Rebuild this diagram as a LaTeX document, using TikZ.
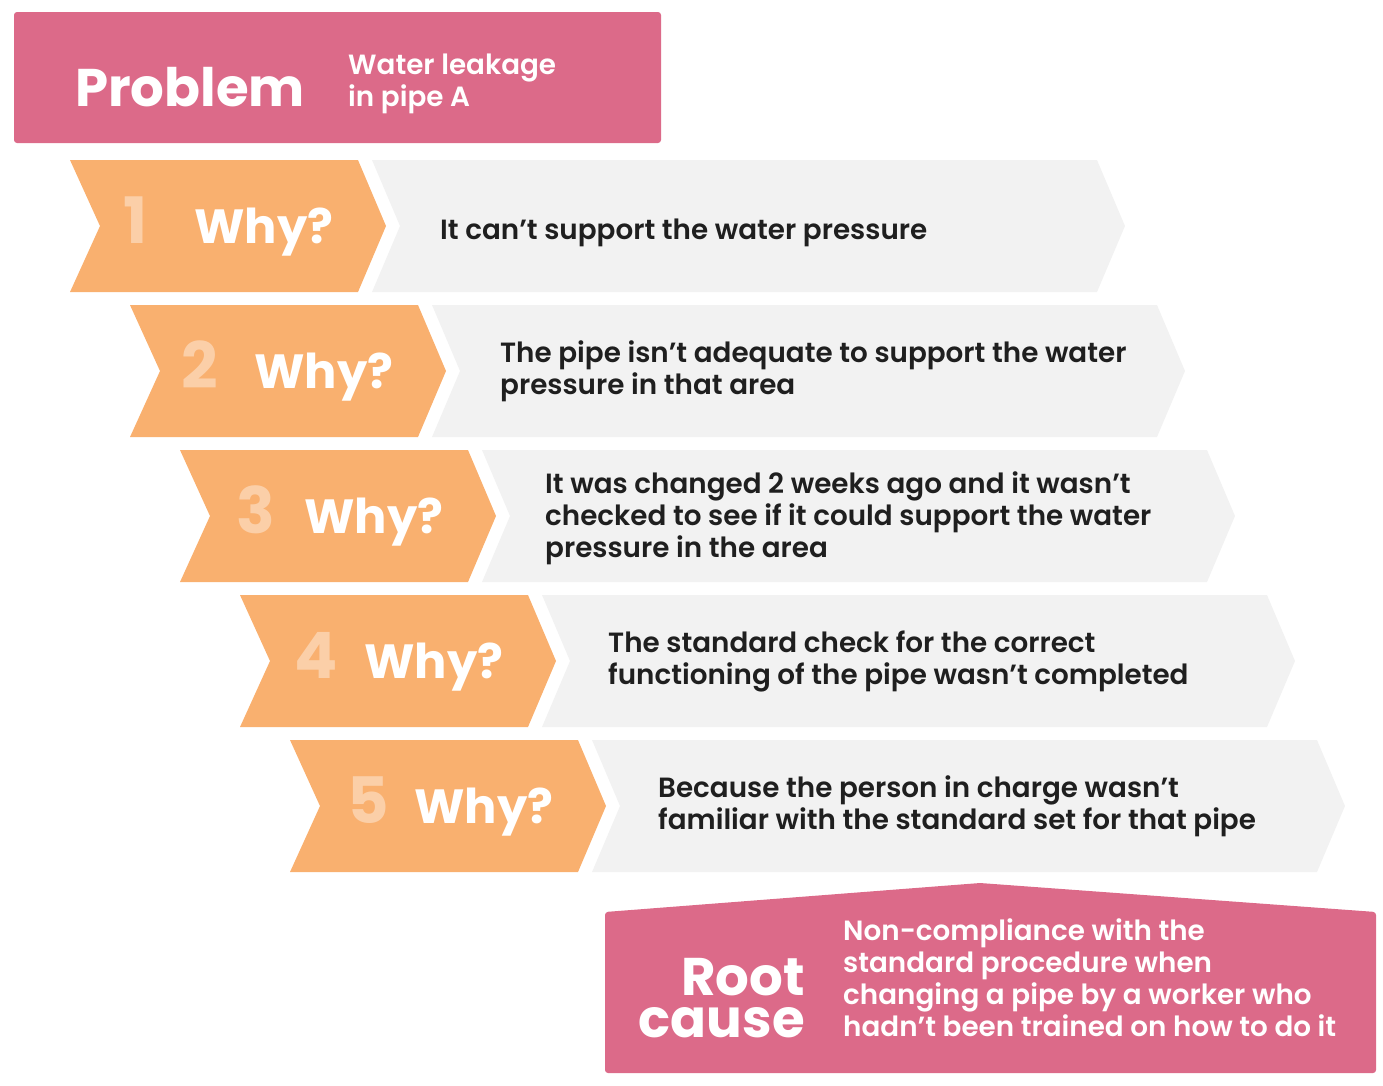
\documentclass[tikz,border=0pt]{standalone}
\usepackage{fontspec}
\setmainfont{Poppins}
\newfontfamily\popbold{Poppins Bold}
\newfontfamily\popsemi{Poppins SemiBold}
\usetikzlibrary{positioning}
\definecolor{Rose}{HTML}{DC6A89}
\definecolor{Peach}{HTML}{F9B06F}
\definecolor{Mist}{HTML}{F2F2F2}
\definecolor{Ink}{HTML}{1F1F1F}
\tikzset{
  rosebox/.style={fill=Rose,rounded corners=3pt},
  peachbox/.style={fill=Peach},
  mistbox/.style={fill=Mist},
  whylabel/.style={font=\popbold\fontsize{48}{48}\selectfont,text=white,anchor=base west,inner sep=0pt},
  numlabel/.style={font=\popbold\fontsize{64}{64}\selectfont,text=white,text opacity=0.4,anchor=base,inner sep=0pt},
  answer/.style={font=\popsemi\fontsize{27.8}{32}\selectfont,text=Ink,align=left,anchor=west,inner sep=0pt},
  bigword/.style={font=\popbold\fontsize{53}{43}\selectfont,text=white,inner sep=0pt},
  lightword/.style={font=\popsemi\fontsize{27.8}{32}\selectfont,text=white,align=left,anchor=west,inner sep=0pt}
}

\begin{document}
\begin{tikzpicture}[x=1pt,y=-1pt]
  \useasboundingbox (0,0) rectangle (1383,1085);

  % problem banner
  \fill[rosebox] (14,12) rectangle (661,143);
  \node[bigword,anchor=base west] (problem) at (75,106) {Problem};
  \node[lightword] (leak) at (348,84) {Water leakage\\in pipe A};

  % the five whys
  \foreach \i/\dx/\numx/\ansx/\dy/\ans in {
    1/0/136/440/7/{It can’t support the water pressure},
    2/60/200/500/0/{The pipe isn’t adequate to support the water\\pressure in that area},
    3/110/256/545/2/{It was changed 2 weeks ago and it wasn’t\\checked to see if it could support the water\\pressure in the area},
    4/170/316/608/0/{The standard check for the correct\\functioning of the pipe wasn’t completed},
    5/220/368/658/0/{Because the person in charge wasn’t\\familiar with the standard set for that pipe}} {
    \pgfmathsetmacro{\rowtop}{160+145*(\i-1)}
    \pgfmathsetmacro{\rowmid}{\rowtop+66}
    \pgfmathsetmacro{\rowbot}{\rowtop+132}
    \fill[peachbox] (70+\dx,\rowtop) -- (358+\dx,\rowtop) -- (386+\dx,\rowmid)
      -- (358+\dx,\rowbot) -- (70+\dx,\rowbot) -- (100+\dx,\rowmid) -- cycle;
    \fill[mistbox] (372+\dx,\rowtop) -- (1097+\dx,\rowtop) -- (1125+\dx,\rowmid)
      -- (1097+\dx,\rowbot) -- (372+\dx,\rowbot) -- (400+\dx,\rowmid) -- cycle;
    \node[numlabel] (num\i) at (\numx,\rowmid+17) {\i};
    \node[whylabel] (why\i) at (194+\dx,\rowmid+17) {Why?};
    \node[answer] (ans\i) at (\ansx,\rowmid+\dy) {\ans};
  }

  % root cause
  \fill[rosebox] (605,912) -- (980,883) -- (1376,912) -- (1376,1073) -- (605,1073) -- cycle;
  \node[bigword,anchor=base east] (root) at (805,995) {Root};
  \node[bigword,anchor=base east] (cause) at (805,1037) {cause};
  \node[lightword] (causetext) at (843,978) {Non-compliance with the\\standard procedure when\\changing a pipe by a worker who\\hadn’t been trained on how to do it};
\end{tikzpicture}
\end{document}
